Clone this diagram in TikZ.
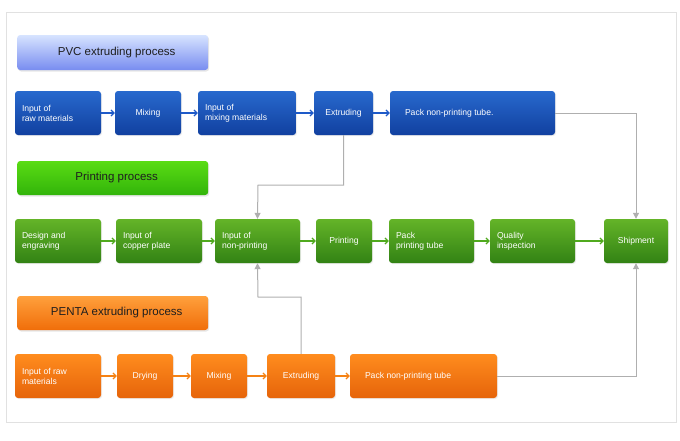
\documentclass[tikz,border=0pt]{standalone}
\usepackage{fontspec}
\setmainfont{Liberation Sans}
\usetikzlibrary{arrows.meta,shadows}
\definecolor{frame}{RGB}{225,225,225}
\definecolor{btop}{RGB}{40,105,205}\definecolor{bbot}{RGB}{17,64,160}
\definecolor{gtop}{RGB}{100,180,40}\definecolor{gbot}{RGB}{50,130,20}
\definecolor{otop}{RGB}{255,140,30}\definecolor{obot}{RGB}{230,100,10}
\definecolor{h1t}{RGB}{215,228,255}\definecolor{h1b}{RGB}{120,140,240}
\definecolor{h2t}{RGB}{90,220,20}\definecolor{h2b}{RGB}{50,180,10}
\definecolor{h3t}{RGB}{255,160,60}\definecolor{h3b}{RGB}{240,110,10}
\definecolor{htxt}{RGB}{30,30,30}
\definecolor{barr}{RGB}{30,90,200}\definecolor{garr}{RGB}{80,170,30}\definecolor{oarr}{RGB}{245,130,20}
\definecolor{gline}{RGB}{175,175,175}
\begin{document}
\begin{tikzpicture}[x=1pt,y=-1pt,
 box/.style={rounded corners=3pt,text=white,font=\fontsize{8.6}{10}\selectfont,align=left,inner sep=0pt,drop shadow={opacity=0.15,shadow xshift=1pt,shadow yshift=-1pt}},
 bbox/.style={box,top color=btop,bottom color=bbot},
 gbox/.style={box,top color=gtop,bottom color=gbot},
 obox/.style={box,top color=otop,bottom color=obot},
 hdr/.style={rounded corners=3pt,font=\fontsize{11.5}{13}\selectfont,text=htxt,anchor=west,inner sep=0pt,drop shadow={opacity=0.2,shadow xshift=1pt,shadow yshift=-1.5pt}},
 ar/.style={-{Straight Barb[length=3pt,width=6pt]},line width=1.2pt},
 gl/.style={-{Triangle[length=6pt,width=6pt]},draw=gline,line width=1pt}]
\useasboundingbox (0,0) rectangle (680,440);
\draw[frame,line width=1pt] (6,12) rectangle (676,422);
% headers
\node[hdr,minimum width=191pt,minimum height=35pt,top color=h1t,bottom color=h1b] (h1) at (17,52.5) {\hspace{8pt}PVC extruding process\hspace{60pt}};
\node[hdr,minimum width=191pt,minimum height=34pt,top color=h2t,bottom color=h2b] (h2) at (17,178) {\hspace{8pt}Printing process\hspace{96pt}};
\node[hdr,minimum width=191pt,minimum height=34pt,top color=h3t,bottom color=h3b] (h3) at (17,313) {\hspace{8pt}PENTA extruding process\hspace{44pt}};
\newcommand\bx[7]{\node[#1,minimum width=#4-#3,minimum height=44pt] (#2) at ({(#3+#4)/2},#5) {\begin{minipage}{\dimexpr #4pt-#3pt-14pt\relax}#7#6\end{minipage}};}
\bx{bbox}{a1}{15}{101}{113}{Input of\\raw materials}{}
\bx{bbox}{a2}{115}{181}{113}{Mixing}{\centering}
\bx{bbox}{a3}{198}{296}{113}{Input of\\mixing materials}{}
\bx{bbox}{a4}{314}{373}{113}{Extruding}{\centering}
\bx{bbox}{a5}{390}{555}{113}{\hspace{8pt}Pack non-printing tube.}{}
\bx{gbox}{b1}{15}{101}{241}{Design and\\engraving}{}
\bx{gbox}{b2}{116}{202}{241}{Input of\\copper plate}{}
\bx{gbox}{b3}{215}{300}{241}{Input of\\non-printing}{}
\bx{gbox}{b4}{316}{372}{241}{Printing}{\centering}
\bx{gbox}{b5}{389}{474}{241}{Pack\\printing tube}{}
\bx{gbox}{b6}{490}{575}{241}{Quality\\inspection}{}
\bx{gbox}{b7}{604}{668}{241}{Shipment}{\centering}
\bx{obox}{c1}{15}{101}{376}{Input of raw\\materials}{}
\bx{obox}{c2}{117}{173}{376}{Drying}{\centering}
\bx{obox}{c3}{191}{247}{376}{Mixing}{\centering}
\bx{obox}{c4}{267}{335}{376}{Extruding}{\centering}
\bx{obox}{c5}{350}{497}{376}{\hspace{8pt}Pack non-printing tube}{}
\foreach \p/\q in {a1/a2,a2/a3,a3/a4,a4/a5}
  \draw[ar,barr] (\p.east) -- (\q.west);
\foreach \p/\q in {b1/b2,b2/b3,b3/b4,b4/b5,b5/b6,b6/b7}
  \draw[ar,garr] (\p.east) -- (\q.west);
\foreach \p/\q in {c1/c2,c2/c3,c3/c4,c4/c5}
  \draw[ar,oarr] (\p.east) -- (\q.west);
\coordinate (k1) at (258,185);
\coordinate (k2) at (258,297);
\draw[gl] (a5.east) -| (b7.north);
\draw[gl] (c5.east) -| (b7.south);
\draw[gl] (a4.south) |- (k1) -- (b3.north);
\draw[gl] (c4.north) |- (k2) -- (b3.south);
\end{tikzpicture}
\end{document}
